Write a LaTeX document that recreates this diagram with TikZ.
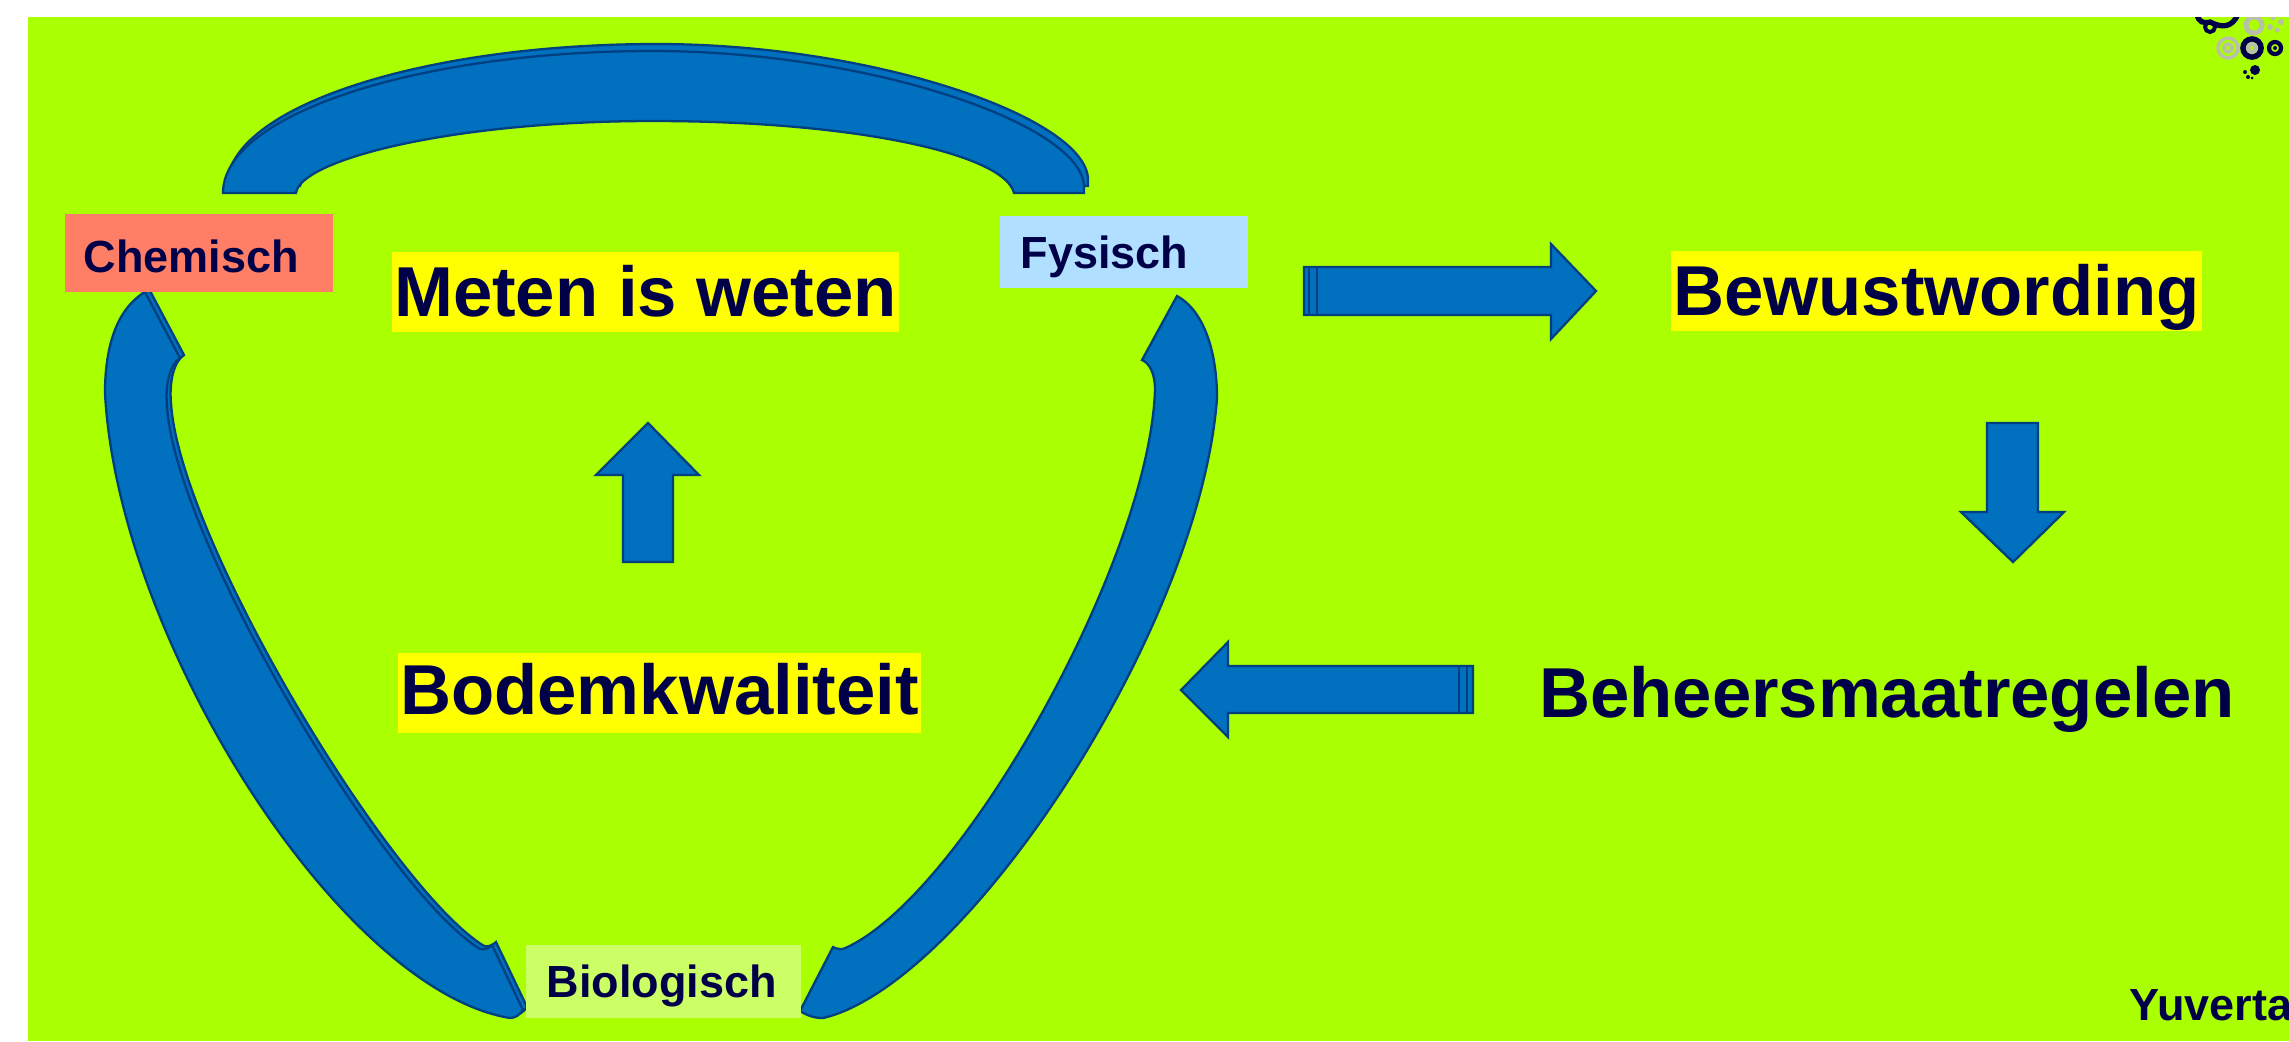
\documentclass[tikz,border=0pt]{standalone}
\usepackage{fontspec}
\setmainfont{Liberation Sans}
\definecolor{bgreen}{HTML}{AAFF00}
\definecolor{ablue}{HTML}{0070BF}
\definecolor{aline}{HTML}{004080}
\definecolor{ink}{HTML}{000048}
\definecolor{salmon}{HTML}{FF7F66}
\definecolor{skyb}{HTML}{B0DFFF}
\definecolor{limeb}{HTML}{CCFF66}
\definecolor{hilite}{HTML}{FFFF00}
\definecolor{logogray}{HTML}{B8C0A8}
\newcommand{\toparcpath}{(223,193) .. controls (223,115) and (416,51) .. (653,51) .. controls (870,51) and (1084,125) .. (1084,187) -- (1084,193) -- (1014,193) .. controls (1005,155) and (860,121) .. (653,121) .. controls (450,121) and (300,160) .. (296,193) -- cycle}
\newcommand{\leftarcpath}{(145,292) .. controls (115,310) and (105,350) .. (105,393) .. controls (118,640) and (340,990) .. (510,1018) .. controls (516,1018) and (520,1014) .. (523,1010) -- (492,945) .. controls (489,948) and (485,950) .. (480,949) .. controls (385,890) and (175,540) .. (167,406) .. controls (165,385) and (170,364) .. (180,358) -- cycle}
\tikzset{
  x=0.01cm,y=-0.01cm,
  shape line/.style={fill=ablue,draw=aline,line width=0.65pt,line join=miter},
  lab/.style={anchor=north west,text=ink,inner ysep=0pt,font=\fontsize{12.8}{15}\selectfont\bfseries,align=left},
  big/.style={anchor=north west,text=ink,inner ysep=0pt,inner xsep=0.025cm,fill=hilite,font=\fontsize{20.1}{24}\selectfont\bfseries},
}
\begin{document}
\begin{tikzpicture}
\useasboundingbox (0,0) rectangle (2289,1041);
\fill[white] (0,0) rectangle (2289,1041);
\fill[bgreen] (28,17) rectangle (2289,1041);

% top arc
\begin{scope}[shift={(4,-7)}]
\draw[shape line] \toparcpath;
\end{scope}
\draw[shape line] \toparcpath;

% left arc
\begin{scope}[shift={(4,-3)}]
\draw[shape line] \leftarcpath;
\end{scope}
\draw[shape line] \leftarcpath;

% right arc
\draw[shape line] (1177,296) .. controls (1203,310) and (1217,350) .. (1217,398) .. controls (1200,630) and (965,985) .. (823,1018) .. controls (812,1018) and (805,1014) .. (800,1011) -- (833,947) .. controls (836,949) and (840,949) .. (843,949) .. controls (960,900) and (1150,560) .. (1155,389) .. controls (1155,375) and (1150,363) .. (1142,360) -- cycle;

% straight arrows
\draw[shape line] (1304,267) -- (1551,267) -- (1551,244) -- (1596,291) -- (1551,339) -- (1551,315) -- (1304,315) -- cycle;
\draw[aline,line width=0.65pt] (1309,267) -- (1309,315) (1317,267) -- (1317,315);
\draw[shape line] (1473,666) -- (1228,666) -- (1228,642) -- (1181,690) -- (1228,737) -- (1228,713) -- (1473,713) -- cycle;
\draw[aline,line width=0.65pt] (1467,666) -- (1467,713) (1459,666) -- (1459,713);
\draw[shape line] (1987,423) -- (2038,423) -- (2038,512) -- (2064,512) -- (2013,562) -- (1961,512) -- (1987,512) -- cycle;
\draw[shape line] (623,562) -- (673,562) -- (673,475) -- (699,475) -- (648,423) -- (596,475) -- (623,475) -- cycle;

% labels
\node[lab,fill=salmon,at={(64,213)},text height=0.59cm,text depth=0.19cm,inner xsep=0.19cm,text width=2.30cm] (chem) {Chemisch};
\node[lab,fill=skyb,at={(999,215)},text height=0.53cm,text depth=0.19cm,inner xsep=0.21cm,text width=2.06cm] (fys) {Fysisch};
\node[lab,fill=limeb,at={(525,944)},text height=0.53cm,text depth=0.20cm,inner xsep=0.21cm,text width=2.33cm] (bio) {Biologisch};
\node[big,at={(391,251)},text height=0.65cm,text depth=0.15cm] (meten) {Meten is weten};
\node[big,at={(397,652)},text height=0.62cm,text depth=0.18cm] (bodem) {Bodemkwaliteit};
\node[big,at={(1670,250)},text height=0.65cm,text depth=0.15cm] (bewust) {Bewustwording};
\node[big,fill=none,at={(1536,654)},text height=0.63cm,text depth=0.17cm] (beheer) {Beheersmaatregelen};

% logo and footer, cut at the picture's edge
\begin{scope}
\clip (28,17) rectangle (2289,1041);
\node[anchor=base west,inner sep=0pt,text=ink,font=\fontsize{12.8}{15}\selectfont\bfseries] (yuv) at (2129,1020) {Yuverta};
\draw[ink,line width=1.5pt] (2197,14) .. controls (2198,22) and (2204,24) .. (2210,22) .. controls (2222,28) and (2232,28) .. (2238,14);
\draw[ink,line width=1.1pt] (2210,27) circle[radius=5];
\draw[logogray,line width=1.4pt] (2254,25) circle[radius=8];
\fill[logogray] (2270,27) circle[radius=3] (2281,22) circle[radius=3] (2277,30) circle[radius=2.5] (2273,18) circle[radius=2.5];
\draw[logogray,line width=1pt] (2228,48) circle[radius=10] (2228,48) circle[radius=4];
\draw[ink,line width=1.6pt] (2252,48) circle[radius=9];
\draw[logogray,line width=1.2pt] (2252,48) circle[radius=4];
\draw[ink,line width=1.2pt] (2275,48) circle[radius=6];
\fill[ink] (2275,48) circle[radius=2];
\fill[ink] (2255,70) circle[radius=5] (2245,72) circle[radius=2] (2248,77) circle[radius=2] (2252,78) circle[radius=1.5];
\end{scope}
\end{tikzpicture}
\end{document}
